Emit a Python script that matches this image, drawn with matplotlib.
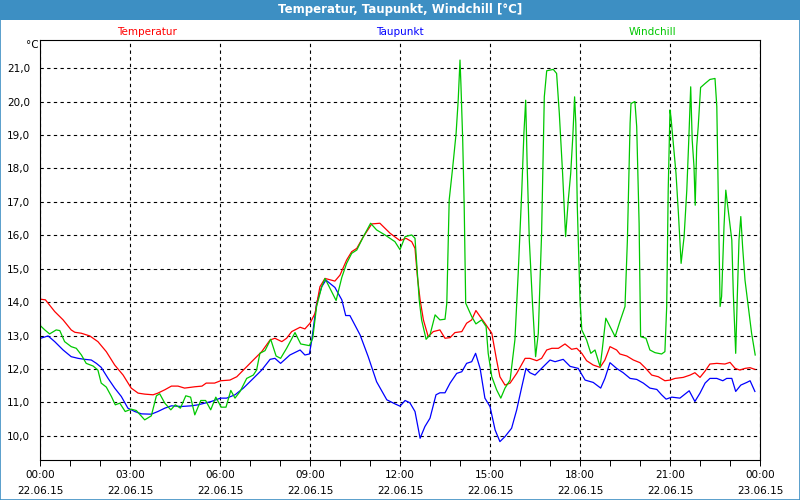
import matplotlib as mpl
import matplotlib.pyplot as plt
from matplotlib.patches import Rectangle

mpl.rcParams.update({
    "font.family": ["DejaVu Sans"],
    "font.size": 7.5,
    "axes.linewidth": 0.8,
})

# hours since 22.06.15 00:00 and values in degC
temp_hours = [0.0, 0.18, 0.49, 0.77, 1.04, 1.16, 1.38, 1.66, 1.93, 2.21, 2.49, 2.77, 3.04, 3.27, 3.49,
              3.77, 3.93, 4.16, 4.38, 4.6, 4.82, 5.16, 5.4, 5.54, 5.82, 6.02, 6.33, 6.56, 6.78, 7.11,
              7.39, 7.67, 7.83, 8.06, 8.22, 8.39, 8.67, 8.83, 9.0, 9.17, 9.33, 9.5, 9.83, 10.0, 10.22,
              10.39, 10.56, 10.78, 11.06, 11.33, 11.67, 12.0, 12.2, 12.39, 12.5, 12.58, 12.67, 12.78,
              12.94, 13.11, 13.33, 13.5, 13.67, 13.83, 14.06, 14.22, 14.39, 14.53, 14.67, 14.83, 15.06,
              15.22, 15.33, 15.5, 15.67, 15.89, 16.17, 16.33, 16.56, 16.72, 16.89, 17.06, 17.28, 17.5,
              17.72, 17.89, 18.06, 18.22, 18.44, 18.67, 18.83, 19.0, 19.22, 19.33, 19.56, 19.78, 20.0,
              20.17, 20.39, 20.61, 20.83, 21.0, 21.17, 21.44, 21.67, 21.83, 22.0, 22.17, 22.33, 22.56,
              22.83, 23.0, 23.17, 23.33, 23.5, 23.67, 23.83]
temp_values = [14.09, 14.07, 13.72, 13.47, 13.17, 13.10, 13.07, 12.99, 12.82, 12.52, 12.12, 11.82, 11.43,
               11.28, 11.25, 11.23, 11.28, 11.38, 11.49, 11.49, 11.43, 11.47, 11.49, 11.58, 11.58, 11.65,
               11.67, 11.77, 11.97, 12.27, 12.52, 12.87, 12.92, 12.82, 12.92, 13.12, 13.25, 13.2, 13.37,
               13.67, 14.46, 14.71, 14.63, 14.81, 15.26, 15.51, 15.61, 15.96, 16.34, 16.36, 16.06, 15.84,
               15.91, 15.81, 15.61, 14.76, 14.07, 13.47, 12.97, 13.12, 13.17, 12.92, 12.94, 13.09, 13.12,
               13.37, 13.47, 13.75, 13.57, 13.37, 13.07, 12.27, 11.77, 11.52, 11.58, 11.87, 12.32, 12.32,
               12.25, 12.32, 12.57, 12.62, 12.62, 12.75, 12.59, 12.62, 12.47, 12.25, 12.12, 12.05, 12.27,
               12.67, 12.57, 12.45, 12.39, 12.27, 12.19, 12.04, 11.82, 11.77, 11.65, 11.67, 11.72, 11.75,
               11.82, 11.89, 11.75, 11.94, 12.15, 12.17, 12.15, 12.2, 12.02, 11.97, 12.02, 12.04, 11.99]

dew_hours = [0.02, 0.27, 0.49, 0.77, 1.04, 1.27, 1.49, 1.71, 1.88, 2.04, 2.27, 2.49, 2.71, 2.93, 3.16,
             3.38, 3.71, 3.93, 4.16, 4.38, 4.71, 5.04, 5.27, 5.49, 5.71, 6.02, 6.22, 6.5, 6.78, 7.11,
             7.39, 7.67, 7.83, 8.02, 8.33, 8.67, 8.83, 8.98, 9.06, 9.22, 9.39, 9.53, 9.83, 10.06, 10.19,
             10.33, 10.67, 10.94, 11.22, 11.56, 11.83, 12.0, 12.17, 12.33, 12.5, 12.67, 12.83, 13.0,
             13.2, 13.33, 13.5, 13.67, 13.89, 14.06, 14.22, 14.39, 14.52, 14.67, 14.83, 15.0, 15.17,
             15.33, 15.5, 15.72, 15.89, 16.06, 16.2, 16.33, 16.5, 16.72, 17.0, 17.17, 17.44, 17.67,
             17.94, 18.17, 18.44, 18.69, 18.83, 19.0, 19.22, 19.44, 19.67, 19.89, 20.11, 20.33, 20.56,
             20.72, 20.87, 21.06, 21.33, 21.64, 21.83, 22.0, 22.17, 22.33, 22.56, 22.76, 22.89, 23.06,
             23.19, 23.36, 23.56, 23.67, 23.83]
dew_values = [12.92, 12.99, 12.82, 12.57, 12.37, 12.32, 12.29, 12.27, 12.17, 12.05, 11.72, 11.43, 11.18,
              10.83, 10.73, 10.66, 10.65, 10.73, 10.83, 10.9, 10.88, 10.9, 10.93, 10.98, 11.03, 11.13,
              11.13, 11.23, 11.43, 11.72, 11.97, 12.29, 12.32, 12.17, 12.42, 12.57, 12.42, 12.45, 12.87,
              13.97, 14.46, 14.66, 14.44, 14.07, 13.6, 13.6, 13.02, 12.37, 11.62, 11.08, 10.96, 10.89,
              11.06, 10.99, 10.73, 9.93, 10.28, 10.53, 11.23, 11.29, 11.29, 11.58, 11.87, 11.92, 12.17,
              12.22, 12.47, 12.02, 11.13, 10.88, 10.18, 9.83, 9.98, 10.23, 10.78, 11.47, 12.02, 11.89,
              11.82, 12.02, 12.27, 12.22, 12.29, 12.08, 12.02, 11.67, 11.6, 11.43, 11.72, 12.19, 12.02,
              11.89, 11.72, 11.69, 11.58, 11.43, 11.39, 11.23, 11.1, 11.16, 11.13, 11.35, 11.03, 11.28,
              11.58, 11.72, 11.72, 11.65, 11.72, 11.72, 11.33, 11.52, 11.6, 11.65, 11.33]

chill_hours = [0.02, 0.16, 0.32, 0.54, 0.66, 0.82, 1.04, 1.21, 1.38, 1.54, 1.77, 1.93, 2.04, 2.21, 2.38,
               2.51, 2.66, 2.84, 3.04, 3.21, 3.49, 3.71, 3.88, 3.99, 4.16, 4.36, 4.51, 4.68, 4.86, 5.02,
               5.16, 5.36, 5.52, 5.69, 5.86, 6.04, 6.2, 6.36, 6.5, 6.67, 6.89, 7.11, 7.22, 7.33, 7.5,
               7.69, 7.87, 8.02, 8.22, 8.5, 8.69, 8.98, 9.09, 9.22, 9.39, 9.5, 9.87, 10.06, 10.22, 10.39,
               10.56, 10.78, 11.02, 11.22, 11.5, 11.83, 12.0, 12.17, 12.39, 12.5, 12.58, 12.64, 12.72,
               12.87, 13.0, 13.17, 13.33, 13.5, 13.56, 13.64, 13.76, 13.87, 13.94, 14.0, 14.03, 14.09,
               14.14, 14.19, 14.39, 14.53, 14.72, 14.87, 14.94, 15.06, 15.22, 15.36, 15.5, 15.67, 15.83,
               15.94, 16.06, 16.13, 16.19, 16.24, 16.31, 16.41, 16.52, 16.61, 16.72, 16.81, 16.89, 17.11,
               17.22, 17.31, 17.42, 17.52, 17.61, 17.69, 17.76, 17.82, 17.86, 17.91, 18.0, 18.06, 18.22,
               18.36, 18.5, 18.67, 18.74, 18.86, 19.0, 19.17, 19.33, 19.5, 19.58, 19.67, 19.7, 19.83,
               19.89, 19.97, 20.02, 20.2, 20.33, 20.5, 20.72, 20.83, 20.89, 20.94, 21.0, 21.03, 21.09,
               21.2, 21.28, 21.37, 21.47, 21.56, 21.63, 21.69, 21.74, 21.8, 21.84, 21.89, 21.94, 22.02,
               22.17, 22.33, 22.5, 22.56, 22.61, 22.67, 22.72, 22.8, 22.86, 22.94, 23.06, 23.11, 23.19,
               23.24, 23.3, 23.36, 23.42, 23.5, 23.61, 23.72, 23.84]
chill_values = [13.29, 13.17, 13.05, 13.17, 13.15, 12.82, 12.67, 12.62, 12.42, 12.17, 12.09, 11.97, 11.58,
                11.46, 11.18, 10.93, 10.98, 10.73, 10.8, 10.76, 10.48, 10.6, 11.2, 11.26, 10.98, 10.78,
                10.93, 10.83, 11.2, 11.16, 10.63, 11.06, 11.06, 10.78, 11.16, 10.86, 10.86, 11.36, 11.13,
                11.33, 11.72, 11.82, 11.97, 12.47, 12.55, 12.89, 12.39, 12.32, 12.62, 13.09, 12.75, 12.7,
                12.92, 13.87, 14.46, 14.71, 14.05, 14.74, 15.16, 15.46, 15.56, 15.96, 16.36, 16.16, 16.01,
                15.81, 15.57, 15.96, 16.01, 15.91, 14.86, 14.07, 13.47, 12.89, 13.02, 13.62, 13.47, 13.49,
                13.97, 17.06, 18.06, 19.05, 20.04, 21.24, 20.54, 18.85, 16.86, 13.97, 13.57, 13.35, 13.47,
                13.27, 12.47, 11.77, 11.38, 11.13, 11.43, 11.67, 12.87, 14.86, 17.35, 19.05, 20.04, 18.06,
                15.86, 14.07, 12.37, 13.07, 16.06, 20.14, 20.92, 20.96, 20.84, 19.65, 17.85, 15.96, 17.06,
                17.85, 18.95, 20.14, 19.35, 16.86, 14.07, 13.17, 12.87, 12.47, 12.57, 12.07, 12.57, 13.52,
                13.27, 12.97, 13.42, 13.87, 15.86, 19.35, 19.94, 20.0, 19.25, 16.36, 12.97, 12.92, 12.57,
                12.49, 12.45, 12.52, 13.87, 17.35, 19.75, 19.55, 18.95, 17.85, 16.66, 15.16, 15.96, 17.35,
                18.95, 20.44, 18.85, 18.05, 16.9, 18.65, 19.25, 20.42, 20.54, 20.66, 20.69, 19.85, 17.06,
                13.87, 14.17, 16.26, 17.35, 16.76, 15.86, 14.27, 12.47, 14.07, 15.86, 16.56, 15.66, 14.66,
                13.87, 13.07, 12.42]

x_ticks = [0, 3, 6, 9, 12, 15, 18, 21, 24]
x_tick_labels = ["00:00\n22.06.15", "03:00\n22.06.15", "06:00\n22.06.15", "09:00\n22.06.15",
                 "12:00\n22.06.15", "15:00\n22.06.15", "18:00\n22.06.15", "21:00\n22.06.15",
                 "00:00\n23.06.15"]
y_ticks = [10, 11, 12, 13, 14, 15, 16, 17, 18, 19, 20, 21]
y_tick_labels = ["%d,0" % v for v in y_ticks]

RED, BLUE, GREEN = "#ff0000", "#0000ff", "#00c800"
BAR = "#3d8fc3"

fig = plt.figure(figsize=(8, 5), dpi=100)

# title bar + thin frame round the whole picture
fig.patches.append(Rectangle((0, 0.96), 1, 0.04, transform=fig.transFigure,
                             facecolor=BAR, edgecolor="none", zorder=0))
fig.patches.append(Rectangle((0.0006, 0.001), 0.9988, 0.998, transform=fig.transFigure,
                             facecolor="none", edgecolor=BAR, linewidth=1.2, zorder=1))
fig.text(0.5, 0.98, "Temperatur, Taupunkt, Windchill [°C]", color="white",
         fontweight="bold", fontsize=8.5, ha="center", va="center")

ax = fig.add_axes([0.05, 0.08, 0.9, 0.84])
ax.plot(dew_hours, dew_values, color=BLUE, lw=0.9)
ax.plot(temp_hours, temp_values, color=RED, lw=0.9)
ax.plot(chill_hours, chill_values, color=GREEN, lw=0.9)

ax.set_xlim(0, 24)
ax.set_ylim(9.28, 21.84)
ax.set_xticks(x_ticks)
ax.set_xticklabels(x_tick_labels, linespacing=1.75)
ax.set_xticks(range(25), minor=True)
ax.set_yticks(y_ticks)
ax.set_yticklabels(y_tick_labels)
ax.tick_params(axis="x", which="both", direction="out", length=4, width=0.7, pad=3)
ax.tick_params(axis="y", length=0, pad=7)
ax.grid(True, which="major", color="black", linestyle=(0, (3, 3)), linewidth=0.8)
for s in ax.spines.values():
    s.set_color("black")

# legend as coloured labels above the plot
fig.text(147 / 800, 0.936, "Temperatur", color=RED, ha="center", va="center")
fig.text(400 / 800, 0.936, "Taupunkt", color=BLUE, ha="center", va="center")
fig.text(652 / 800, 0.936, "Windchill", color=GREEN, ha="center", va="center")
fig.text(32 / 800, 0.91, "°C", ha="center", va="center")

fig.savefig("out.png", dpi=100)
